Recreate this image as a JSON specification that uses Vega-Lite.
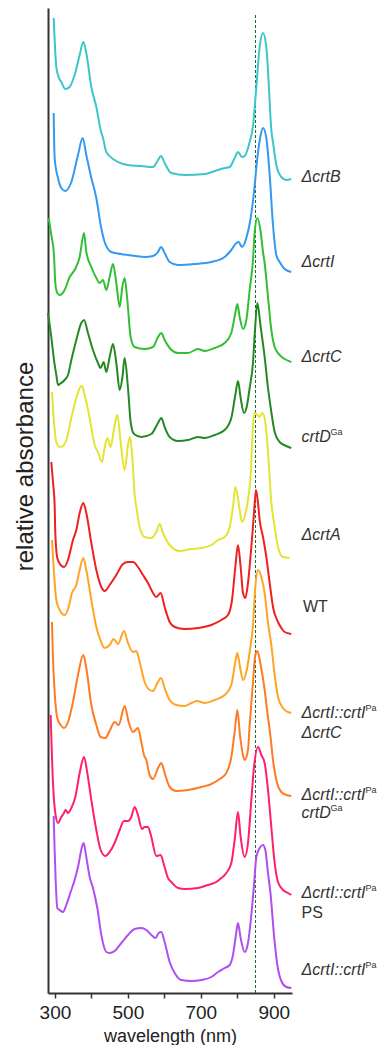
{
"$schema": "https://vega.github.io/schema/vega-lite/v6.json",
"width": 244, "height": 985,
"autosize": {"type": "none"},
"padding": {"left": 48, "top": 8, "right": 87, "bottom": 52},
"config": {"view": {"stroke": null}, "font": "Liberation Sans"},
"datasets": {
"ref": [{"nm": 850, "a": 0, "a2": 97.8}],
"labels": [
{"nm": 976, "a": 81.6, "t": "ΔcrtB", "st": "i", "sup": ""},
{"nm": 976, "a": 73.1, "t": "ΔcrtI", "st": "i", "sup": ""},
{"nm": 976, "a": 63.6, "t": "ΔcrtC", "st": "i", "sup": ""},
{"nm": 976, "a": 55.6, "t": "crtD", "st": "i", "sup": "Ga"},
{"nm": 976, "a": 45.8, "t": "ΔcrtA", "st": "i", "sup": ""},
{"nm": 980, "a": 38.6, "t": "WT", "st": "n", "sup": ""},
{"nm": 976, "a": 28.0, "t": "ΔcrtI::crtI", "st": "i", "sup": "Pa"},
{"nm": 976, "a": 26.0, "t": "ΔcrtC", "st": "i", "sup": ""},
{"nm": 976, "a": 19.8, "t": "ΔcrtI::crtI", "st": "i", "sup": "Pa"},
{"nm": 976, "a": 18.0, "t": "crtD", "st": "i", "sup": "Ga"},
{"nm": 976, "a": 10.0, "t": "ΔcrtI::crtI", "st": "i", "sup": "Pa"},
{"nm": 976, "a": 8.0, "t": "PS", "st": "n", "sup": ""},
{"nm": 976, "a": 2.3, "t": "ΔcrtI::crtI", "st": "i", "sup": "Pa"}
],
"spectra": [
{"s":"B","nm":296.5,"a":97.5},{"s":"B","nm":303.8,"a":92.6},{"s":"B","nm":310,"a":91.6},{"s":"B","nm":317.5,"a":91.1},{"s":"B","nm":328.5,"a":90.4},{"s":"B","nm":340,"a":90.6},{"s":"B","nm":354,"a":91.8},{"s":"B","nm":367.8,"a":93.8},{"s":"B","nm":377.8,"a":95.1},{"s":"B","nm":386,"a":94.0},{"s":"B","nm":399.8,"a":90.6},{"s":"B","nm":413.5,"a":88.6},{"s":"B","nm":425.4,"a":86.3},{"s":"B","nm":431.8,"a":85.5},{"s":"B","nm":440.9,"a":84.1},{"s":"B","nm":463.7,"a":83.3},{"s":"B","nm":500.3,"a":82.8},{"s":"B","nm":536.9,"a":82.7},{"s":"B","nm":568.9,"a":82.6},{"s":"B","nm":582.6,"a":83.3},{"s":"B","nm":590.8,"a":83.7},{"s":"B","nm":600.8,"a":83.0},{"s":"B","nm":619.1,"a":82.0},{"s":"B","nm":655.7,"a":81.8},{"s":"B","nm":710.5,"a":81.9},{"s":"B","nm":747.1,"a":82.3},{"s":"B","nm":765.4,"a":82.5},{"s":"B","nm":779.1,"a":82.6},{"s":"B","nm":792.8,"a":83.5},{"s":"B","nm":801.9,"a":84.1},{"s":"B","nm":812.9,"a":83.6},{"s":"B","nm":820.2,"a":83.7},{"s":"B","nm":833.9,"a":85.1},{"s":"B","nm":843,"a":86.7},{"s":"B","nm":852.2,"a":90.6},{"s":"B","nm":861.3,"a":94.6},{"s":"B","nm":870.5,"a":96.0},{"s":"B","nm":879.6,"a":94.6},{"s":"B","nm":886,"a":91.0},{"s":"B","nm":893.3,"a":86.3},{"s":"B","nm":897.9,"a":85.1},{"s":"B","nm":907,"a":82.8},{"s":"B","nm":920.7,"a":81.6},{"s":"B","nm":934.5,"a":81.3},{"s":"B","nm":948,"a":81.4},
{"s":"I","nm":296.5,"a":88.0},{"s":"I","nm":299.2,"a":83.5},{"s":"I","nm":308.4,"a":81.5},{"s":"I","nm":317.5,"a":80.5},{"s":"I","nm":328.5,"a":80.2},{"s":"I","nm":345,"a":81.1},{"s":"I","nm":363.2,"a":83.8},{"s":"I","nm":376,"a":85.5},{"s":"I","nm":386,"a":83.8},{"s":"I","nm":399.8,"a":81.5},{"s":"I","nm":413.5,"a":79.5},{"s":"I","nm":425.4,"a":76.8},{"s":"I","nm":436.3,"a":75.1},{"s":"I","nm":454.6,"a":74.1},{"s":"I","nm":500.3,"a":73.8},{"s":"I","nm":546,"a":73.6},{"s":"I","nm":568.9,"a":73.7},{"s":"I","nm":582.6,"a":74.1},{"s":"I","nm":590.8,"a":74.6},{"s":"I","nm":600.8,"a":74.0},{"s":"I","nm":614.6,"a":73.1},{"s":"I","nm":637.4,"a":72.8},{"s":"I","nm":683.1,"a":72.9},{"s":"I","nm":728.8,"a":73.1},{"s":"I","nm":765.4,"a":73.6},{"s":"I","nm":783.6,"a":74.3},{"s":"I","nm":797.4,"a":75.0},{"s":"I","nm":803.7,"a":75.1},{"s":"I","nm":812.9,"a":74.6},{"s":"I","nm":824.8,"a":75.5},{"s":"I","nm":836.7,"a":77.5},{"s":"I","nm":845.8,"a":80.1},{"s":"I","nm":855,"a":83.5},{"s":"I","nm":864.1,"a":85.8},{"s":"I","nm":870.5,"a":86.5},{"s":"I","nm":879.6,"a":85.5},{"s":"I","nm":888.8,"a":81.8},{"s":"I","nm":897.9,"a":76.8},{"s":"I","nm":907,"a":73.8},{"s":"I","nm":916.2,"a":73.1},{"s":"I","nm":929.9,"a":72.4},{"s":"I","nm":948,"a":72.1},
{"s":"C","nm":282.8,"a":77.5},{"s":"C","nm":290.1,"a":75.8},{"s":"C","nm":297.4,"a":73.8},{"s":"C","nm":301,"a":71.0},{"s":"C","nm":306.5,"a":70.0},{"s":"C","nm":313,"a":69.8},{"s":"C","nm":326.6,"a":70.3},{"s":"C","nm":340.4,"a":71.6},{"s":"C","nm":354,"a":72.3},{"s":"C","nm":367.8,"a":73.6},{"s":"C","nm":379.7,"a":76.0},{"s":"C","nm":386,"a":74.1},{"s":"C","nm":399.8,"a":72.6},{"s":"C","nm":413.5,"a":71.5},{"s":"C","nm":422.6,"a":71.0},{"s":"C","nm":431.8,"a":71.3},{"s":"C","nm":440.9,"a":70.3},{"s":"C","nm":450,"a":71.6},{"s":"C","nm":459.2,"a":72.9},{"s":"C","nm":468.3,"a":71.0},{"s":"C","nm":477.5,"a":68.6},{"s":"C","nm":484.8,"a":70.6},{"s":"C","nm":491.2,"a":71.5},{"s":"C","nm":498.5,"a":69.3},{"s":"C","nm":507.6,"a":65.6},{"s":"C","nm":518.6,"a":64.6},{"s":"C","nm":546,"a":64.4},{"s":"C","nm":568.9,"a":64.6},{"s":"C","nm":582.6,"a":65.6},{"s":"C","nm":591.7,"a":66.0},{"s":"C","nm":600.8,"a":65.3},{"s":"C","nm":614.6,"a":64.5},{"s":"C","nm":637.4,"a":64.0},{"s":"C","nm":664.8,"a":64.0},{"s":"C","nm":692.2,"a":64.4},{"s":"C","nm":710.5,"a":64.2},{"s":"C","nm":738,"a":64.5},{"s":"C","nm":765.4,"a":65.0},{"s":"C","nm":783.6,"a":66.0},{"s":"C","nm":794.6,"a":68.0},{"s":"C","nm":800.1,"a":68.9},{"s":"C","nm":806.5,"a":67.6},{"s":"C","nm":815.6,"a":66.4},{"s":"C","nm":824.8,"a":67.3},{"s":"C","nm":833.9,"a":70.3},{"s":"C","nm":843,"a":73.3},{"s":"C","nm":847.6,"a":76.1},{"s":"C","nm":855,"a":77.5},{"s":"C","nm":864.1,"a":76.1},{"s":"C","nm":870.5,"a":74.1},{"s":"C","nm":875,"a":73.0},{"s":"C","nm":884.2,"a":69.6},{"s":"C","nm":893.3,"a":66.3},{"s":"C","nm":902.5,"a":64.6},{"s":"C","nm":916.2,"a":63.8},{"s":"C","nm":929.9,"a":63.4},{"s":"C","nm":948,"a":63.1},
{"s":"D","nm":281,"a":68.0},{"s":"D","nm":290.1,"a":65.6},{"s":"D","nm":297.4,"a":63.3},{"s":"D","nm":303.8,"a":61.8},{"s":"D","nm":308.4,"a":60.8},{"s":"D","nm":313,"a":60.9},{"s":"D","nm":326.6,"a":61.3},{"s":"D","nm":335.8,"a":61.8},{"s":"D","nm":345,"a":63.3},{"s":"D","nm":358.6,"a":65.3},{"s":"D","nm":372.3,"a":67.0},{"s":"D","nm":379.7,"a":67.3},{"s":"D","nm":390.6,"a":66.0},{"s":"D","nm":404.3,"a":64.3},{"s":"D","nm":418,"a":63.0},{"s":"D","nm":425.4,"a":62.5},{"s":"D","nm":433.6,"a":63.1},{"s":"D","nm":440.9,"a":62.1},{"s":"D","nm":450,"a":63.6},{"s":"D","nm":459.2,"a":64.9},{"s":"D","nm":468.3,"a":63.0},{"s":"D","nm":477.5,"a":60.3},{"s":"D","nm":484.8,"a":61.5},{"s":"D","nm":491.2,"a":63.5},{"s":"D","nm":500.3,"a":60.5},{"s":"D","nm":507.6,"a":57.1},{"s":"D","nm":516.8,"a":55.9},{"s":"D","nm":536.9,"a":55.6},{"s":"D","nm":564.3,"a":55.9},{"s":"D","nm":582.6,"a":57.0},{"s":"D","nm":591.7,"a":57.5},{"s":"D","nm":600.8,"a":56.6},{"s":"D","nm":614.6,"a":55.6},{"s":"D","nm":637.4,"a":55.2},{"s":"D","nm":664.8,"a":55.3},{"s":"D","nm":692.2,"a":55.6},{"s":"D","nm":710.5,"a":55.5},{"s":"D","nm":738,"a":55.8},{"s":"D","nm":765.4,"a":56.3},{"s":"D","nm":783.6,"a":57.5},{"s":"D","nm":794.6,"a":59.8},{"s":"D","nm":801.9,"a":61.2},{"s":"D","nm":809.2,"a":59.5},{"s":"D","nm":818.4,"a":58.0},{"s":"D","nm":825.7,"a":58.6},{"s":"D","nm":833.9,"a":60.5},{"s":"D","nm":843,"a":63.0},{"s":"D","nm":848,"a":66.0},{"s":"D","nm":855,"a":69.0},{"s":"D","nm":864.1,"a":66.6},{"s":"D","nm":875,"a":63.6},{"s":"D","nm":884.2,"a":60.5},{"s":"D","nm":893.3,"a":58.1},{"s":"D","nm":902.5,"a":56.1},{"s":"D","nm":916.2,"a":55.1},{"s":"D","nm":934.5,"a":54.7},{"s":"D","nm":948,"a":54.5},
{"s":"A","nm":291.9,"a":60.1},{"s":"A","nm":297.4,"a":57.1},{"s":"A","nm":303.8,"a":55.1},{"s":"A","nm":313,"a":54.6},{"s":"A","nm":322,"a":54.7},{"s":"A","nm":331.2,"a":55.3},{"s":"A","nm":344.9,"a":57.5},{"s":"A","nm":358.6,"a":59.5},{"s":"A","nm":367.8,"a":60.5},{"s":"A","nm":374.2,"a":60.7},{"s":"A","nm":381.5,"a":59.8},{"s":"A","nm":395.2,"a":57.5},{"s":"A","nm":408.9,"a":54.8},{"s":"A","nm":418,"a":54.1},{"s":"A","nm":429,"a":53.1},{"s":"A","nm":436.3,"a":54.5},{"s":"A","nm":443.6,"a":55.5},{"s":"A","nm":452.8,"a":54.6},{"s":"A","nm":463.7,"a":56.8},{"s":"A","nm":471.1,"a":57.8},{"s":"A","nm":480.2,"a":55.1},{"s":"A","nm":491.2,"a":52.3},{"s":"A","nm":500.3,"a":54.8},{"s":"A","nm":505.8,"a":55.6},{"s":"A","nm":512.2,"a":53.5},{"s":"A","nm":518.6,"a":49.8},{"s":"A","nm":523.2,"a":48.6},{"s":"A","nm":532.3,"a":46.6},{"s":"A","nm":546,"a":45.6},{"s":"A","nm":564.3,"a":45.5},{"s":"A","nm":578,"a":46.1},{"s":"A","nm":587.1,"a":46.9},{"s":"A","nm":596.3,"a":46.0},{"s":"A","nm":614.6,"a":44.8},{"s":"A","nm":642,"a":44.2},{"s":"A","nm":674,"a":44.4},{"s":"A","nm":701.4,"a":44.5},{"s":"A","nm":728.8,"a":44.8},{"s":"A","nm":747.1,"a":45.3},{"s":"A","nm":765.4,"a":45.6},{"s":"A","nm":779.1,"a":46.6},{"s":"A","nm":788.2,"a":48.6},{"s":"A","nm":794.6,"a":50.6},{"s":"A","nm":801.9,"a":49.5},{"s":"A","nm":806.5,"a":48.3},{"s":"A","nm":812.9,"a":47.1},{"s":"A","nm":822.1,"a":47.9},{"s":"A","nm":829.3,"a":49.3},{"s":"A","nm":836.7,"a":51.8},{"s":"A","nm":843,"a":56.8},{"s":"A","nm":847.6,"a":58.0},{"s":"A","nm":855,"a":57.8},{"s":"A","nm":861.3,"a":57.6},{"s":"A","nm":867.7,"a":58.0},{"s":"A","nm":875,"a":57.5},{"s":"A","nm":884.2,"a":54.1},{"s":"A","nm":893.3,"a":49.1},{"s":"A","nm":902.5,"a":46.6},{"s":"A","nm":911.6,"a":44.6},{"s":"A","nm":925.3,"a":43.6},{"s":"A","nm":943.6,"a":43.5},
{"s":"WT","nm":290.1,"a":53.1},{"s":"WT","nm":294.7,"a":51.1},{"s":"WT","nm":299.2,"a":48.8},{"s":"WT","nm":301,"a":46.0},{"s":"WT","nm":306.5,"a":43.5},{"s":"WT","nm":315.7,"a":42.8},{"s":"WT","nm":324.8,"a":42.6},{"s":"WT","nm":335.8,"a":43.3},{"s":"WT","nm":349.5,"a":45.3},{"s":"WT","nm":358.6,"a":46.3},{"s":"WT","nm":367.8,"a":48.0},{"s":"WT","nm":377.8,"a":49.0},{"s":"WT","nm":386,"a":48.0},{"s":"WT","nm":399.8,"a":45.0},{"s":"WT","nm":413.5,"a":42.3},{"s":"WT","nm":427.2,"a":40.6},{"s":"WT","nm":436.3,"a":40.2},{"s":"WT","nm":450,"a":40.8},{"s":"WT","nm":468.3,"a":41.8},{"s":"WT","nm":486.6,"a":42.9},{"s":"WT","nm":500.3,"a":43.1},{"s":"WT","nm":514,"a":43.1},{"s":"WT","nm":527.7,"a":42.6},{"s":"WT","nm":541.4,"a":41.8},{"s":"WT","nm":555.1,"a":41.0},{"s":"WT","nm":568.9,"a":40.0},{"s":"WT","nm":578,"a":39.6},{"s":"WT","nm":589.9,"a":40.0},{"s":"WT","nm":600.8,"a":38.6},{"s":"WT","nm":614.6,"a":37.1},{"s":"WT","nm":628.3,"a":36.6},{"s":"WT","nm":655.7,"a":36.4},{"s":"WT","nm":692.2,"a":36.5},{"s":"WT","nm":728.8,"a":36.8},{"s":"WT","nm":756.2,"a":37.3},{"s":"WT","nm":774.5,"a":37.8},{"s":"WT","nm":785.5,"a":39.3},{"s":"WT","nm":794.6,"a":42.6},{"s":"WT","nm":801.9,"a":44.8},{"s":"WT","nm":809.2,"a":42.6},{"s":"WT","nm":815.6,"a":40.0},{"s":"WT","nm":822.1,"a":39.5},{"s":"WT","nm":829.3,"a":41.0},{"s":"WT","nm":838.5,"a":44.6},{"s":"WT","nm":845.8,"a":48.0},{"s":"WT","nm":851.3,"a":50.3},{"s":"WT","nm":856.8,"a":49.0},{"s":"WT","nm":861.3,"a":47.3},{"s":"WT","nm":870.5,"a":45.6},{"s":"WT","nm":879.6,"a":43.6},{"s":"WT","nm":888.8,"a":41.0},{"s":"WT","nm":897.9,"a":38.6},{"s":"WT","nm":911.6,"a":37.1},{"s":"WT","nm":920.7,"a":36.5},{"s":"WT","nm":929.9,"a":36.1},{"s":"WT","nm":948,"a":35.9},
{"s":"PaC","nm":291.9,"a":45.3},{"s":"PaC","nm":297.4,"a":42.0},{"s":"PaC","nm":303.8,"a":39.3},{"s":"PaC","nm":313,"a":38.3},{"s":"PaC","nm":326.6,"a":37.8},{"s":"PaC","nm":337.6,"a":38.6},{"s":"PaC","nm":346.7,"a":40.0},{"s":"PaC","nm":358.6,"a":40.8},{"s":"PaC","nm":367.8,"a":42.3},{"s":"PaC","nm":377.8,"a":43.5},{"s":"PaC","nm":386,"a":42.3},{"s":"PaC","nm":399.8,"a":39.3},{"s":"PaC","nm":413.5,"a":36.6},{"s":"PaC","nm":422.6,"a":35.5},{"s":"PaC","nm":436.3,"a":34.5},{"s":"PaC","nm":450,"a":34.8},{"s":"PaC","nm":461,"a":35.4},{"s":"PaC","nm":472.9,"a":34.9},{"s":"PaC","nm":489.3,"a":36.2},{"s":"PaC","nm":500.3,"a":35.0},{"s":"PaC","nm":514,"a":34.1},{"s":"PaC","nm":523.2,"a":34.2},{"s":"PaC","nm":532.3,"a":33.1},{"s":"PaC","nm":546,"a":31.1},{"s":"PaC","nm":559.7,"a":30.3},{"s":"PaC","nm":568.9,"a":30.2},{"s":"PaC","nm":580.7,"a":31.0},{"s":"PaC","nm":590.8,"a":31.5},{"s":"PaC","nm":600.8,"a":30.5},{"s":"PaC","nm":614.6,"a":29.3},{"s":"PaC","nm":632.8,"a":28.8},{"s":"PaC","nm":655.7,"a":28.7},{"s":"PaC","nm":674,"a":29.0},{"s":"PaC","nm":690.4,"a":29.2},{"s":"PaC","nm":710.5,"a":29.0},{"s":"PaC","nm":738,"a":29.3},{"s":"PaC","nm":765.4,"a":29.8},{"s":"PaC","nm":783.6,"a":30.8},{"s":"PaC","nm":794.6,"a":33.1},{"s":"PaC","nm":800.1,"a":34.0},{"s":"PaC","nm":806.5,"a":32.8},{"s":"PaC","nm":815.6,"a":31.3},{"s":"PaC","nm":824.8,"a":32.1},{"s":"PaC","nm":833.9,"a":34.1},{"s":"PaC","nm":843,"a":36.8},{"s":"PaC","nm":849.4,"a":40.6},{"s":"PaC","nm":856.8,"a":42.3},{"s":"PaC","nm":865.9,"a":41.6},{"s":"PaC","nm":875,"a":40.0},{"s":"PaC","nm":884.2,"a":37.0},{"s":"PaC","nm":893.3,"a":34.8},{"s":"PaC","nm":902.5,"a":31.8},{"s":"PaC","nm":911.6,"a":29.6},{"s":"PaC","nm":925.3,"a":28.5},{"s":"PaC","nm":939,"a":28.1},{"s":"PaC","nm":948,"a":28.0},
{"s":"PaD","nm":291.9,"a":37.1},{"s":"PaD","nm":294.7,"a":33.5},{"s":"PaD","nm":299.2,"a":30.1},{"s":"PaD","nm":306.5,"a":27.5},{"s":"PaD","nm":315.7,"a":26.8},{"s":"PaD","nm":324.8,"a":26.5},{"s":"PaD","nm":335.8,"a":27.1},{"s":"PaD","nm":349.5,"a":29.1},{"s":"PaD","nm":363.2,"a":31.8},{"s":"PaD","nm":377.8,"a":33.8},{"s":"PaD","nm":386,"a":32.5},{"s":"PaD","nm":399.8,"a":28.8},{"s":"PaD","nm":413.5,"a":26.8},{"s":"PaD","nm":425.4,"a":25.6},{"s":"PaD","nm":438.2,"a":25.5},{"s":"PaD","nm":450,"a":26.2},{"s":"PaD","nm":463.7,"a":27.1},{"s":"PaD","nm":474.7,"a":26.8},{"s":"PaD","nm":491.2,"a":28.7},{"s":"PaD","nm":502.1,"a":27.1},{"s":"PaD","nm":514,"a":26.1},{"s":"PaD","nm":527.7,"a":26.5},{"s":"PaD","nm":536.9,"a":25.1},{"s":"PaD","nm":544.2,"a":23.8},{"s":"PaD","nm":550.6,"a":23.3},{"s":"PaD","nm":559.7,"a":21.8},{"s":"PaD","nm":568.9,"a":21.4},{"s":"PaD","nm":582.6,"a":22.5},{"s":"PaD","nm":591.7,"a":23.0},{"s":"PaD","nm":600.8,"a":22.0},{"s":"PaD","nm":614.6,"a":20.6},{"s":"PaD","nm":632.8,"a":20.2},{"s":"PaD","nm":664.8,"a":20.3},{"s":"PaD","nm":701.4,"a":20.6},{"s":"PaD","nm":728.8,"a":20.9},{"s":"PaD","nm":751.7,"a":21.4},{"s":"PaD","nm":770,"a":22.0},{"s":"PaD","nm":783.6,"a":23.6},{"s":"PaD","nm":792.8,"a":26.1},{"s":"PaD","nm":800.1,"a":28.3},{"s":"PaD","nm":807.4,"a":25.8},{"s":"PaD","nm":815.6,"a":23.8},{"s":"PaD","nm":820.2,"a":23.3},{"s":"PaD","nm":829.3,"a":24.3},{"s":"PaD","nm":833.9,"a":26.8},{"s":"PaD","nm":843,"a":31.1},{"s":"PaD","nm":849.4,"a":33.8},{"s":"PaD","nm":855,"a":34.2},{"s":"PaD","nm":864.1,"a":32.8},{"s":"PaD","nm":873.2,"a":30.8},{"s":"PaD","nm":882.4,"a":28.1},{"s":"PaD","nm":891.5,"a":25.5},{"s":"PaD","nm":897.9,"a":23.3},{"s":"PaD","nm":907,"a":21.3},{"s":"PaD","nm":920.7,"a":20.1},{"s":"PaD","nm":934.5,"a":19.8},{"s":"PaD","nm":948,"a":19.7},
{"s":"PaPS","nm":288.3,"a":27.8},{"s":"PaPS","nm":294.7,"a":21.0},{"s":"PaPS","nm":301,"a":18.0},{"s":"PaPS","nm":308.4,"a":17.0},{"s":"PaPS","nm":317.5,"a":17.6},{"s":"PaPS","nm":324.8,"a":18.0},{"s":"PaPS","nm":329.4,"a":18.3},{"s":"PaPS","nm":335.8,"a":18.0},{"s":"PaPS","nm":345,"a":18.5},{"s":"PaPS","nm":355.9,"a":19.6},{"s":"PaPS","nm":367.8,"a":22.0},{"s":"PaPS","nm":379.7,"a":23.6},{"s":"PaPS","nm":388.8,"a":22.0},{"s":"PaPS","nm":399.8,"a":19.3},{"s":"PaPS","nm":413.5,"a":16.3},{"s":"PaPS","nm":425.4,"a":14.3},{"s":"PaPS","nm":438.2,"a":13.7},{"s":"PaPS","nm":450,"a":14.1},{"s":"PaPS","nm":463.7,"a":15.0},{"s":"PaPS","nm":477.5,"a":16.3},{"s":"PaPS","nm":489.3,"a":17.2},{"s":"PaPS","nm":500.3,"a":17.2},{"s":"PaPS","nm":509.4,"a":17.6},{"s":"PaPS","nm":518.6,"a":18.6},{"s":"PaPS","nm":527.7,"a":17.8},{"s":"PaPS","nm":538.7,"a":16.4},{"s":"PaPS","nm":546,"a":16.6},{"s":"PaPS","nm":555.1,"a":16.6},{"s":"PaPS","nm":564.3,"a":15.6},{"s":"PaPS","nm":578,"a":13.7},{"s":"PaPS","nm":589.9,"a":13.8},{"s":"PaPS","nm":599,"a":12.8},{"s":"PaPS","nm":610,"a":11.5},{"s":"PaPS","nm":619.1,"a":11.1},{"s":"PaPS","nm":637.4,"a":10.5},{"s":"PaPS","nm":655.7,"a":10.4},{"s":"PaPS","nm":692.2,"a":10.5},{"s":"PaPS","nm":719.7,"a":10.8},{"s":"PaPS","nm":742.5,"a":11.1},{"s":"PaPS","nm":756.2,"a":11.5},{"s":"PaPS","nm":770,"a":12.0},{"s":"PaPS","nm":783.6,"a":13.0},{"s":"PaPS","nm":792.8,"a":15.3},{"s":"PaPS","nm":801.9,"a":18.1},{"s":"PaPS","nm":809.2,"a":15.6},{"s":"PaPS","nm":820.2,"a":13.6},{"s":"PaPS","nm":829.3,"a":15.0},{"s":"PaPS","nm":838.5,"a":19.3},{"s":"PaPS","nm":845.8,"a":22.6},{"s":"PaPS","nm":856.8,"a":24.6},{"s":"PaPS","nm":865.9,"a":23.8},{"s":"PaPS","nm":875,"a":23.0},{"s":"PaPS","nm":884.2,"a":20.3},{"s":"PaPS","nm":893.3,"a":16.6},{"s":"PaPS","nm":902.5,"a":13.0},{"s":"PaPS","nm":911.6,"a":11.1},{"s":"PaPS","nm":925.3,"a":10.3},{"s":"PaPS","nm":939,"a":10.0},{"s":"PaPS","nm":948,"a":9.8},
{"s":"Pa","nm":296.5,"a":17.7},{"s":"Pa","nm":299.2,"a":14.3},{"s":"Pa","nm":302,"a":11.3},{"s":"Pa","nm":306.5,"a":8.5},{"s":"Pa","nm":313,"a":8.3},{"s":"Pa","nm":322,"a":8.1},{"s":"Pa","nm":331.2,"a":8.8},{"s":"Pa","nm":343.1,"a":10.1},{"s":"Pa","nm":354,"a":11.3},{"s":"Pa","nm":363.2,"a":12.6},{"s":"Pa","nm":374.2,"a":14.6},{"s":"Pa","nm":378.7,"a":15.0},{"s":"Pa","nm":386,"a":13.6},{"s":"Pa","nm":395.2,"a":11.6},{"s":"Pa","nm":404.3,"a":10.5},{"s":"Pa","nm":416.2,"a":8.5},{"s":"Pa","nm":427.2,"a":5.8},{"s":"Pa","nm":440.9,"a":4.1},{"s":"Pa","nm":450,"a":4.0},{"s":"Pa","nm":463.7,"a":4.2},{"s":"Pa","nm":482,"a":5.0},{"s":"Pa","nm":500.3,"a":5.8},{"s":"Pa","nm":518.6,"a":6.4},{"s":"Pa","nm":536.9,"a":6.5},{"s":"Pa","nm":550.6,"a":6.3},{"s":"Pa","nm":564.3,"a":5.8},{"s":"Pa","nm":576.2,"a":5.5},{"s":"Pa","nm":584.4,"a":6.0},{"s":"Pa","nm":591.7,"a":6.1},{"s":"Pa","nm":600.8,"a":5.1},{"s":"Pa","nm":614.6,"a":3.1},{"s":"Pa","nm":628.3,"a":2.0},{"s":"Pa","nm":646.5,"a":1.3},{"s":"Pa","nm":674,"a":1.2},{"s":"Pa","nm":701.4,"a":1.3},{"s":"Pa","nm":728.8,"a":1.6},{"s":"Pa","nm":747.1,"a":2.1},{"s":"Pa","nm":765.4,"a":2.5},{"s":"Pa","nm":779.1,"a":2.8},{"s":"Pa","nm":788.2,"a":3.8},{"s":"Pa","nm":797.4,"a":6.1},{"s":"Pa","nm":801.9,"a":7.0},{"s":"Pa","nm":809.2,"a":5.5},{"s":"Pa","nm":820.2,"a":4.1},{"s":"Pa","nm":829.3,"a":5.0},{"s":"Pa","nm":838.5,"a":7.8},{"s":"Pa","nm":845.8,"a":10.8},{"s":"Pa","nm":852.2,"a":13.6},{"s":"Pa","nm":861.3,"a":14.5},{"s":"Pa","nm":870.5,"a":14.8},{"s":"Pa","nm":876.9,"a":14.3},{"s":"Pa","nm":884.2,"a":12.0},{"s":"Pa","nm":891.5,"a":9.8},{"s":"Pa","nm":900.6,"a":5.8},{"s":"Pa","nm":909.8,"a":2.8},{"s":"Pa","nm":920.7,"a":1.2},{"s":"Pa","nm":934.5,"a":0.6},{"s":"Pa","nm":948,"a":0.5}
]
},
"encoding": {
"x": {"field": "nm", "type": "quantitative",
 "scale": {"domain": [281, 950], "nice": false, "zero": false},
 "axis": {"values": [300, 400, 500, 600, 700, 800, 900], "labelExpr": "datum.value % 200 == 100 ? datum.label : ''", "grid": false, "domainColor": "#333333", "domainWidth": 2, "tickColor": "#333333", "tickWidth": 1.5, "tickSize": 5, "labelFontSize": 19, "labelColor": "#222222", "labelPadding": 5, "labelFlush": false, "labelOverlap": false, "title": "wavelength (nm)", "titleFontSize": 18, "titleFontWeight": "normal", "titleColor": "#222222", "titlePadding": 5}},
"y": {"field": "a", "type": "quantitative",
 "scale": {"domain": [0, 98.5], "nice": false, "zero": false},
 "axis": {"grid": false, "ticks": false, "labels": false, "domainColor": "#333333", "domainWidth": 2, "title": "relative absorbance", "titleFontSize": 24, "titleFontWeight": "normal", "titleColor": "#222222", "titleAngle": -90, "titleX": -23, "titleY": 458, "titleAlign": "center", "titleBaseline": "middle"}}
},
"layer": [
{"data": {"name": "ref"}, "mark": {"type": "rule", "color": "#1f6b2a", "strokeWidth": 1, "strokeDash": [3, 2]}, "encoding": {"y2": {"field": "a2"}}},
{"data": {"name": "spectra"}, "mark": {"type": "line", "strokeWidth": 2, "interpolate": "monotone"},
 "encoding": {"color": {"field": "s", "type": "nominal", "legend": null,
  "scale": {"domain": ["B", "I", "C", "D", "A", "WT", "PaC", "PaD", "PaPS", "Pa"],
            "range": ["#3cc6c8", "#3399f2", "#33bf33", "#238a23", "#e4e433", "#ee2020", "#ffa526", "#ff7b24", "#ff1f6e", "#b04ff0"]}}}},
{"data": {"name": "labels"}, "transform": [{"filter": "datum.st == 'i'"}], "mark": {"type": "text", "align": "left", "baseline": "middle", "fontSize": 16, "fontStyle": "italic", "color": "#333333"}, "encoding": {"text": {"field": "t"}}},
{"data": {"name": "labels"}, "transform": [{"filter": "datum.st == 'n'"}], "mark": {"type": "text", "align": "left", "baseline": "middle", "fontSize": 16, "color": "#333333"}, "encoding": {"text": {"field": "t"}}},
{"data": {"name": "labels"}, "transform": [{"filter": "datum.sup == 'Ga'"}], "mark": {"type": "text", "align": "left", "baseline": "middle", "fontSize": 9, "dx": 29, "dy": -5, "color": "#333333"}, "encoding": {"text": {"field": "sup"}}},
{"data": {"name": "labels"}, "transform": [{"filter": "datum.sup == 'Pa'"}], "mark": {"type": "text", "align": "left", "baseline": "middle", "fontSize": 9, "dx": 64, "dy": -5, "color": "#333333"}, "encoding": {"text": {"field": "sup"}}}
]
}
